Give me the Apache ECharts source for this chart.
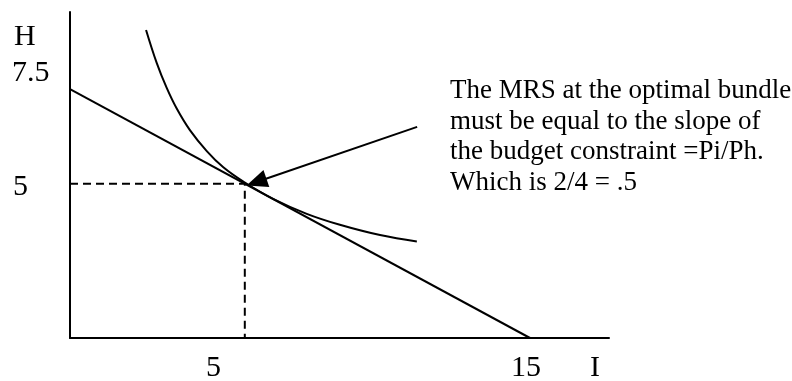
<!DOCTYPE html>
<html>
<head>
<meta charset="utf-8">
<style>html,body{margin:0;padding:0;background:#fff;}#c{width:792px;height:381px;}</style>
<script src="https://cdn.jsdelivr.net/npm/echarts@6/dist/echarts.min.js"></script>
</head>
<body>
<div id="c"></div>
<script>
// Data (units of I and H as drawn)
const budgetLine = [[0, 7.5], [15, 0]];
const indifferenceCurve = [
  [2.48, 9.28], [2.83, 8.28], [3.15, 7.54], [3.48, 6.91], [3.91, 6.26],
  [4.46, 5.63], [4.99, 5.15], [5.64, 4.72], [6.62, 4.19],
  [7.72, 3.74], [8.80, 3.41], [10.11, 3.10], [11.31, 2.91]
];
const optimalGuides = [[0, 4.65], [5.7, 4.65], [5.7, 0]];
const arrowFrom = [11.32, 6.36];
const arrowTo = [6.08, 4.70];
const yTickLabels = ['H', '7.5', '5'];
const xTickLabels = ['5', '15', 'I'];
const noteLines = [
  'The MRS at the optimal bundle',
  'must be equal to the slope of',
  'the budget constraint =Pi/Ph.',
  'Which is 2/4 = .5'
];

const FONT = '"Liberation Serif", "Times New Roman", serif';
const chart = echarts.init(document.getElementById('c'), null, {renderer: 'canvas'});
const axisCommon = {
  axisLine: {show: true, lineStyle: {color: '#000', width: 2}},
  axisTick: {show: false},
  axisLabel: {show: false},
  splitLine: {show: false}
};
const lbl = (text, x, y, size) => ({
  type: 'text', left: x, top: y,
  style: {text: text, font: size + 'px ' + FONT, fill: '#000'}
});
chart.setOption({
  animation: false,
  backgroundColor: '#fff',
  grid: {left: 70, top: 12, right: 183, bottom: 43},
  xAxis: Object.assign({type: 'value', min: 0, max: 17.576}, axisCommon),
  yAxis: Object.assign({type: 'value', min: 0, max: 9.82}, axisCommon),
  series: [
    {type: 'line', data: budgetLine, showSymbol: false, lineStyle: {color: '#000', width: 2}},
    {type: 'line', data: indifferenceCurve, smooth: 0.4, showSymbol: false, lineStyle: {color: '#000', width: 2}},
    {type: 'line', data: optimalGuides, showSymbol: false, lineStyle: {color: '#000', width: 2, type: [8, 5]}},
    {type: 'line', data: [], markLine: {
      silent: true, symbol: ['none', 'triangle'], symbolSize: [18, 21],
      label: {show: false},
      lineStyle: {color: '#000', width: 2, type: 'solid'},
      data: [[{coord: arrowFrom}, {coord: arrowTo}]]
    }}
  ],
  graphic: [
    lbl(yTickLabels[0], 14, 22, 30),
    lbl(yTickLabels[1], 12, 58, 30),
    lbl(yTickLabels[2], 13, 172, 30),
    lbl(xTickLabels[0], 206, 353, 30),
    lbl(xTickLabels[1], 511, 353, 30),
    lbl(xTickLabels[2], 590, 353, 30),
    {type: 'text', left: 450, top: 76, style: {text: noteLines.join('\n'), font: '27px ' + FONT, lineHeight: 30.5, fill: '#000'}}
  ]
});
</script>
</body>
</html>
